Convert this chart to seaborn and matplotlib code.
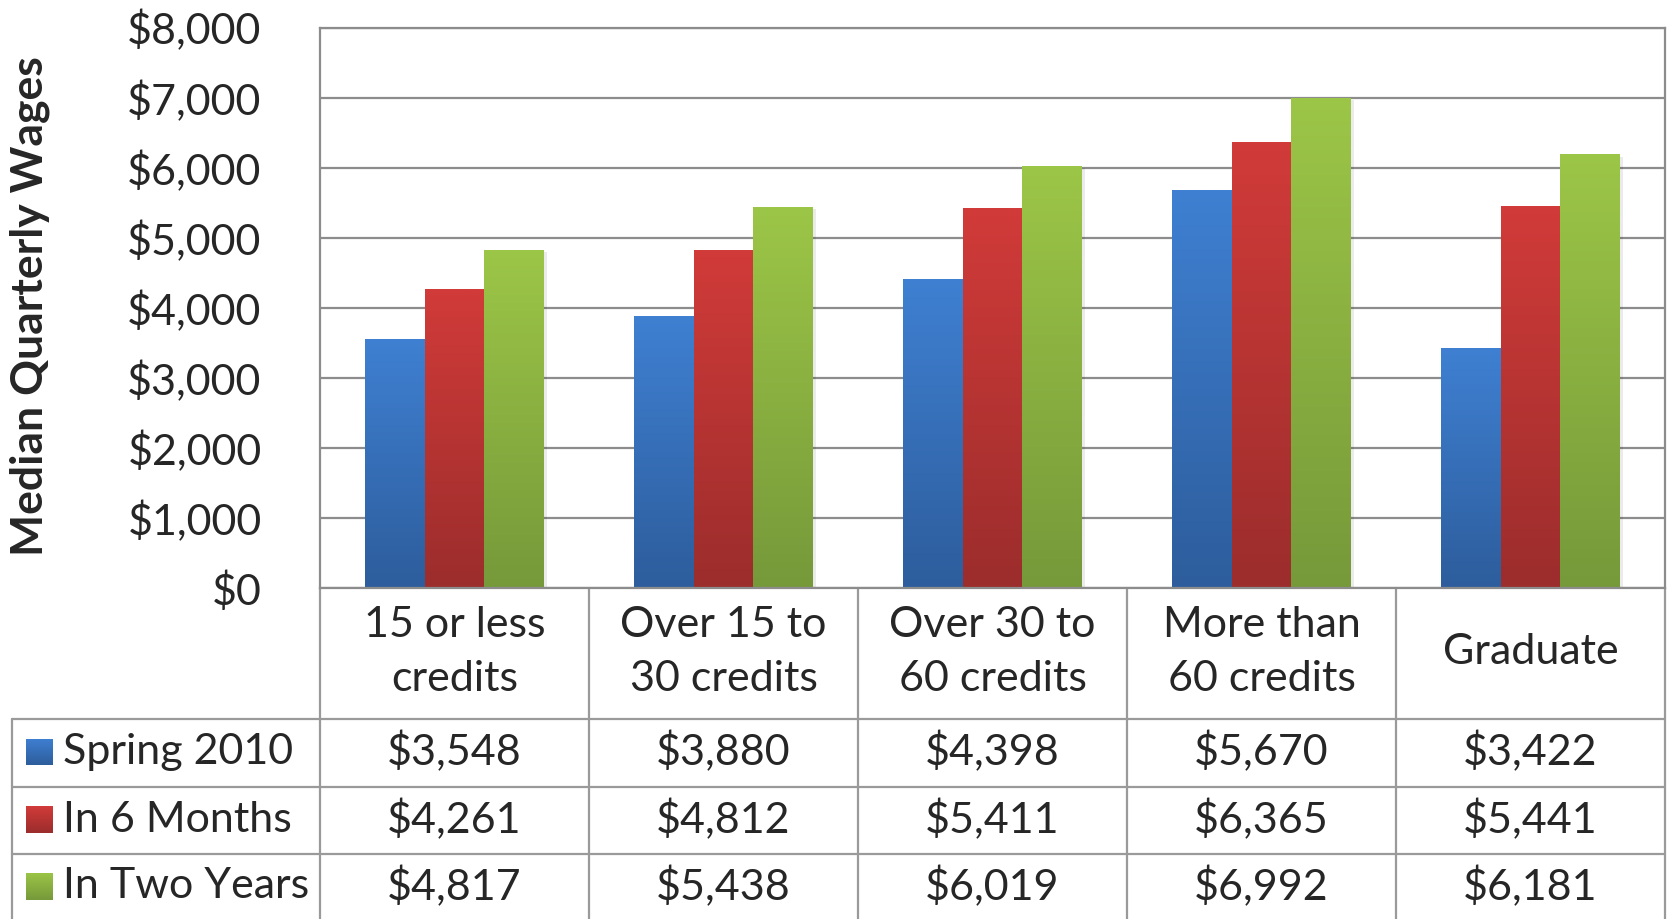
import numpy as np
import pandas as pd
import matplotlib
matplotlib.use("Agg")
import matplotlib.pyplot as plt
import matplotlib.transforms as mtransforms
from matplotlib.colors import LinearSegmentedColormap
import seaborn as sns

# ----------------------------
# DATA
# ----------------------------
categories = ["15 or less\ncredits", "Over 15 to\n30 credits", "Over 30 to\n60 credits",
              "More than\n60 credits", "Graduate"]
series = ["Spring 2010", "In 6 Months", "In Two Years"]
spring_2010 = [3548, 3880, 4398, 5670, 3422]
in_6_months = [4261, 4812, 5411, 6365, 5441]
in_two_years = [4817, 5438, 6019, 6992, 6181]
y_ticks = [0, 1000, 2000, 3000, 4000, 5000, 6000, 7000, 8000]

# gradient colours (top, bottom)
colors_top = ["#3F80D2", "#D13B39", "#9CC647"]
colors_bot = ["#2D5D9C", "#9B2D2C", "#76993A"]

df = pd.DataFrame({
    "category": categories * 3,
    "series": np.repeat(series, len(categories)),
    "value": spring_2010 + in_6_months + in_two_years,
})

# ----------------------------
# FIGURE
# ----------------------------
sns.set_style("white")
plt.rcParams["font.family"] = ["Lato", "DejaVu Sans"]

W, H = 1669, 919
fig = plt.figure(figsize=(W / 100, H / 100), dpi=100)
ax_left, ax_right, ax_top, ax_bot = 320, 1665, 27.5, 588
ax = fig.add_axes([ax_left / W, 1 - ax_bot / H, (ax_right - ax_left) / W, (ax_bot - ax_top) / H])

sns.barplot(data=df, x="category", y="value", hue="series", order=categories,
            hue_order=series, palette=colors_top, width=0.667, gap=0,
            saturation=1, ax=ax, legend=False, errorbar=None)

ax.set_xlim(-0.5, 4.5)
ax.set_ylim(0, 8000)

grad = np.linspace(0, 1, 256).reshape(-1, 1)
cmaps = [LinearSegmentedColormap.from_list(f"g{s}", [colors_bot[s], colors_top[s]])
         for s in range(len(series))]

# gradient fill + soft shadow for each bar
for i, patch in enumerate(ax.patches):
    s = i // len(categories)
    x0, y0 = patch.get_x(), patch.get_y()
    w, h = patch.get_width(), patch.get_height()
    ax.add_patch(plt.Rectangle((x0 + 0.012, y0), w, h - 25, color="#000000",
                               alpha=0.08, lw=0, zorder=1.5))
    ax.imshow(grad, extent=[x0, x0 + w, y0, y0 + h], origin="lower", cmap=cmaps[s],
              aspect="auto", zorder=2)
    patch.set_visible(False)
ax.set_xlim(-0.5, 4.5)
ax.set_ylim(0, 8000)

# grid / frame
ax.set_yticks(y_ticks)
ax.set_yticklabels([f"${v:,}" for v in y_ticks], fontsize=31)
ax.yaxis.grid(True, color="#8C8C8C", lw=1.6)
ax.set_axisbelow(True)
ax.tick_params(axis="y", length=0, pad=42)
ax.set_xticks([])
ax.set_xlabel("")
ax.set_ylabel("")
for side in ["left", "top", "right", "bottom"]:
    ax.spines[side].set_color("#8C8C8C")
    ax.spines[side].set_linewidth(1.6)

fig.text(30 / W, 1 - 306 / H, "Median Quarterly Wages", rotation=90, fontsize=32,
         fontweight="bold", ha="center", va="center")

# ----------------------------
# DATA TABLE (below the plot)
# ----------------------------
trans = mtransforms.blended_transform_factory(ax.transData, ax.transAxes)
px = ax_bot - ax_top  # axes height in px


def ay(y_px):
    return (ax_bot - y_px) / px


line_kw = dict(color="#9A9A9A", lw=1.6, transform=trans, clip_on=False)
leg_left = -0.5 - (320 - 12) / ((ax_right - ax_left) / 5)
row_lines = [719, 786.5, 854]
bottom = 925

# vertical lines
for xv in np.arange(-0.5, 5.0, 1.0):
    ax.plot([xv, xv], [ay(ax_bot), ay(bottom)], **line_kw)
ax.plot([leg_left, leg_left], [ay(row_lines[0]), ay(bottom)], **line_kw)
# horizontal lines
for yl in row_lines:
    ax.plot([leg_left, 4.5], [ay(yl), ay(yl)], **line_kw)

# header row
for i, cat in enumerate(categories):
    ax.text(i, ay(652), cat, transform=trans, ha="center", va="center",
            fontsize=31, linespacing=1.5)

# value rows
row_values = [spring_2010, in_6_months, in_two_years]
row_centers = [752, 819.5, 886.5]
for s, (vals, yc) in enumerate(zip(row_values, row_centers)):
    for i, v in enumerate(vals):
        ax.text(i, ay(yc), f"${v:,}", transform=trans, ha="center", va="center",
                fontsize=31)
    # legend key (gradient square) + label
    kax = fig.add_axes([26 / W, 1 - (yc + 13.5) / H, 27 / W, 27 / H])
    kax.imshow(grad, origin="lower", cmap=cmaps[s], aspect="auto")
    kax.axis("off")
    fig.text(63 / W, 1 - yc / H, series[s], fontsize=31, ha="left", va="center")

fig.savefig("out.png", dpi=100)
